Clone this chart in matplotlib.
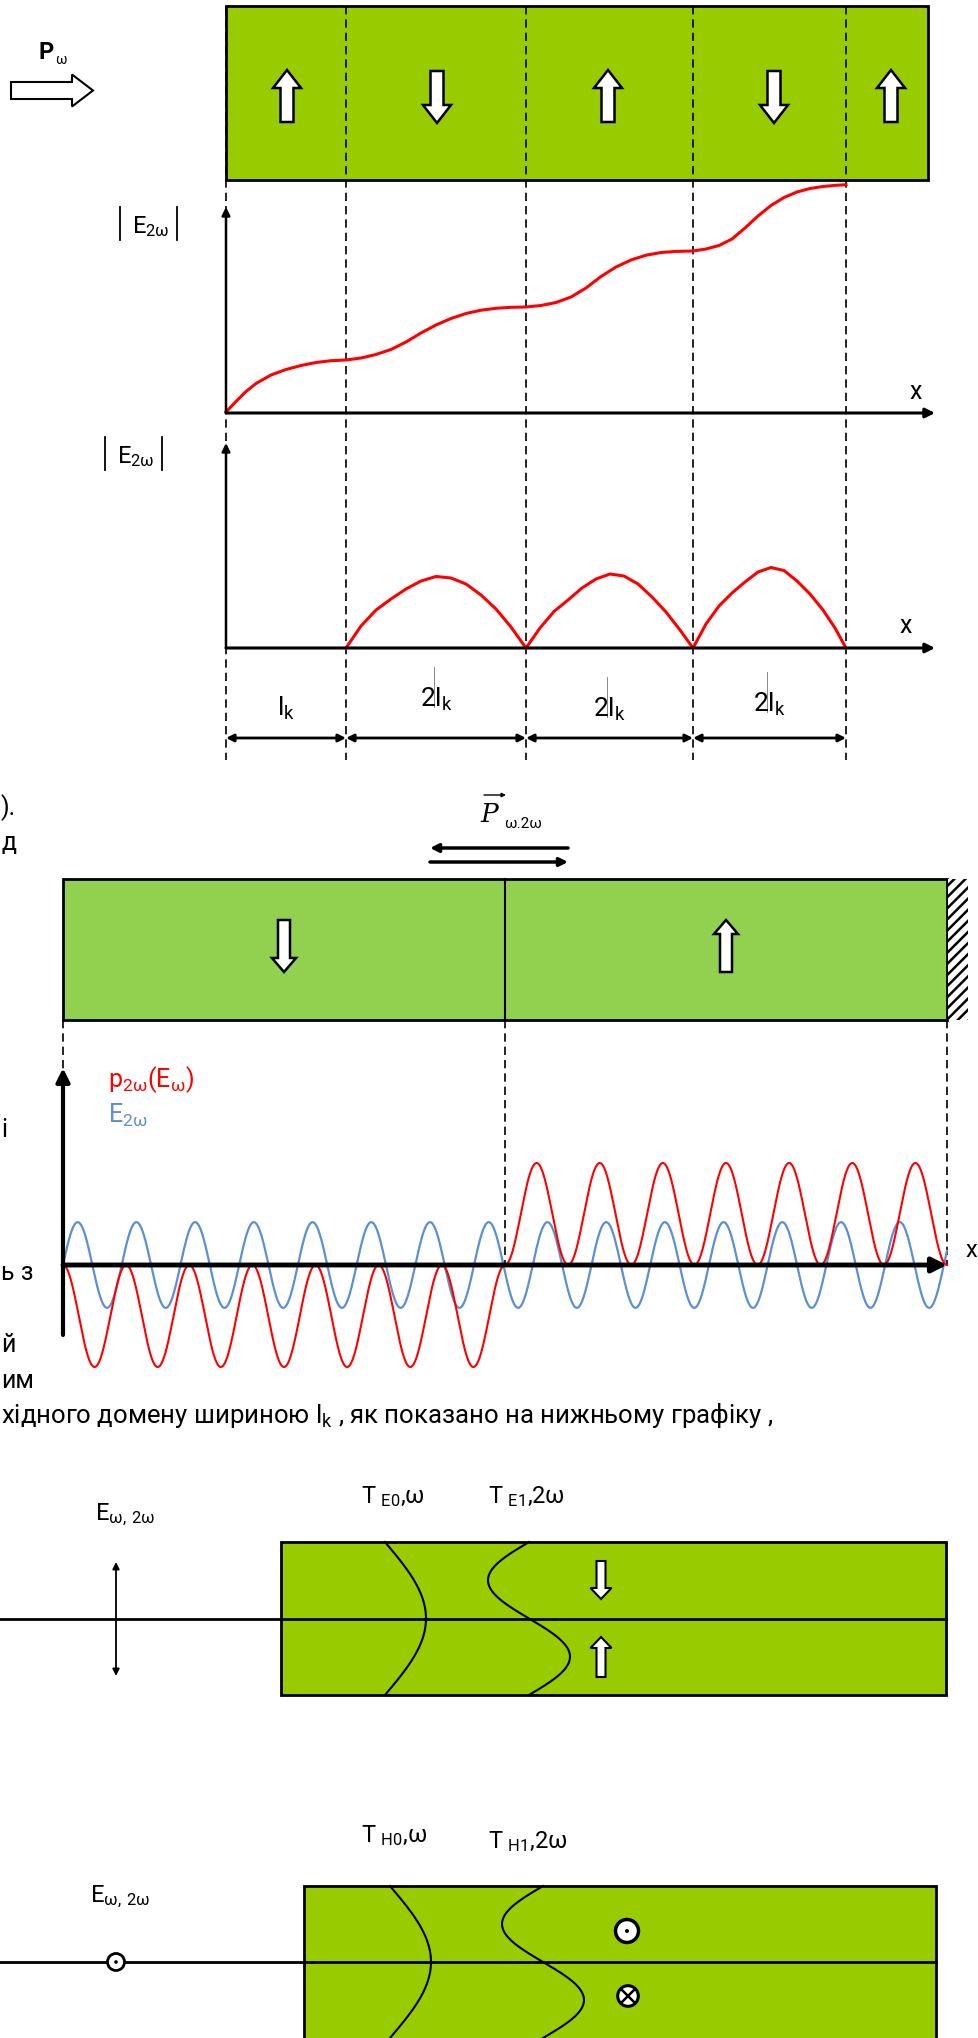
import numpy as np
import matplotlib
matplotlib.use("Agg")
import matplotlib.pyplot as plt
import matplotlib.patches as mpatches

plt.rcParams['font.family'] = ['Roboto', 'DejaVu Sans']
plt.rcParams['mathtext.default'] = 'regular'
plt.rcParams['hatch.linewidth'] = 1.8

W, H = 979, 2038

# ---------------- data ----------------
# domain borders along x (same units as the |E2w| plots, origin at the y axis)
domain_edges = [0, 120, 300, 467, 620]
domain_dirs = ["up", "down", "up", "down", "up"]
dim_labels = [r"$l_k$", r"$2l_k$", r"$2l_k$", r"$2l_k$"]

# |E2w| growth with quasi phase matching (upper plot)
stair_x = [0, 10, 20, 30, 45, 60, 75, 90, 105, 120,
           135, 150, 165, 180, 195, 210, 225, 240, 255, 270, 285, 300,
           315, 330, 345, 360, 375, 390, 405, 420, 435, 450, 467,
           480, 493, 506, 519, 532, 545, 558, 571, 584, 597, 610, 620]
stair_y = [1, 11.5, 21.5, 29.5, 38, 43.5, 47.5, 50.5, 52.3, 53,
           55, 58.5, 63.5, 71, 80, 88, 94.5, 99.5, 102.8, 104.7, 105.7, 106,
           107.5, 110.5, 116, 125, 136.5, 146, 153, 157.8, 160.5, 161.6, 162,
           164, 167.5, 174, 185, 197, 207.5, 215.5, 221, 224.5, 226.5, 227.7, 228.3]

# |E2w| without phase matching (lower plot), three arches
arch_x = [
    [120, 135, 150, 165, 180, 195, 210, 225, 240, 255, 270, 285, 300],
    [300, 314, 328, 342, 356, 370, 384, 398, 412, 426, 440, 454, 467],
    [467, 480, 493, 506, 519, 532, 545, 558, 571, 584, 597, 609, 620],
]
arch_y = [
    [0, 22, 38, 49, 59, 67, 71.5, 70, 64, 53, 39, 21, 0],
    [0, 20, 36.5, 48, 60, 69, 74, 72, 64, 51, 36, 18, 0],
    [0, 24, 42, 55, 66, 76, 80.5, 77.5, 67, 54, 38, 20, 0],
]

# p2w(Ew) and E2w waves, x in periods of p2w
red_periods_per_domain = 7
red_amp = 1.0
blue_amp = 0.42
blue_period = 0.93

# waveguide mode profiles (offset of curve from its base line, px)
mode_amp = 41

GREEN = '#99CC00'
GREEN2 = '#92D050'
BLUE = '#5B8FD6'

fig = plt.figure(figsize=(W / 100, H / 100), dpi=100)
bg = fig.add_axes([0, 0, 1, 1])
bg.set_xlim(0, W)
bg.set_ylim(H, 0)
bg.axis('off')


def px_axes(l, t, r, b):
    a = fig.add_axes([l / W, 1 - b / H, (r - l) / W, (b - t) / H])
    a.axis('off')
    a.patch.set_alpha(0)
    return a


def hollow_arrow(ax, x, y0, y1, shaft=12, head=26, head_len=17, lw=1.8):
    ax.add_patch(mpatches.FancyArrow(x, y0, 0, y1 - y0, width=shaft, head_width=head,
                                     head_length=head_len, length_includes_head=True,
                                     fc='white', ec='black', lw=lw, zorder=5))


def line_arrow(ax, x0, y0, x1, y1, lw=2.0, ms=14, style='-|>'):
    ax.annotate('', xy=(x1, y1), xytext=(x0, y0), annotation_clip=False,
                arrowprops=dict(arrowstyle=style, lw=lw, color='black',
                                mutation_scale=ms, shrinkA=0, shrinkB=0))


def abs_label(x, y, size=17):
    # |E2w| with tall bars
    bg.plot([x, x], [y - 26, y + 7], color='black', lw=1.3)
    bg.text(x + 12, y, r"$E_{2ω}$", fontsize=size, va='baseline')
    bg.plot([x + 57, x + 57], [y - 26, y + 7], color='black', lw=1.3)


# ---------------- top: periodically poled crystal ----------------
X0 = 226
bg.add_patch(mpatches.Rectangle((X0, 6), 928 - X0, 174, fc=GREEN, ec='black', lw=2))
for e in domain_edges:
    bg.plot([X0 + e, X0 + e], [6, 760], color='black', lw=1.2, ls=(0, (5, 3)))

top_arrow_x = [287, 437, 608, 774, 891]
for x, d in zip(top_arrow_x, domain_dirs):
    if d == "up":
        hollow_arrow(bg, x, 122, 70, shaft=13, head=28, head_len=18)
    else:
        hollow_arrow(bg, x, 71, 123, shaft=13, head=28, head_len=18)

bg.text(39, 59, 'P', fontsize=17, fontweight='bold', va='baseline')
bg.text(55, 64, 'ω', fontsize=10, va='baseline')
bg.add_patch(mpatches.FancyArrow(11, 90.5, 82, 0, width=17, head_width=32, head_length=21,
                                 length_includes_head=True, fc='white', ec='black', lw=1.5))

# upper plot
g1 = px_axes(200, 180, W, 430)
g1.set_xlim(-26, W - X0)
g1.set_ylim(-17, 233)
line_arrow(g1, 0, 0, 709, 0, lw=2.2, ms=14)
line_arrow(g1, 0, 0, 0, 206, lw=1.8, ms=12)
g1.plot(stair_x, stair_y, color='red', lw=2.2, solid_joinstyle='round')
abs_label(120, 233)
bg.text(909, 399, 'x', fontsize=18, va='baseline')

# lower plot
g2 = px_axes(200, 430, W, 665)
g2.set_xlim(-26, W - X0)
g2.set_ylim(-17, 218)
line_arrow(g2, 0, 0, 709, 0, lw=2.2, ms=14)
line_arrow(g2, 0, 0, 0, 205, lw=1.8, ms=12)
for ax_, ay_ in zip(arch_x, arch_y):
    g2.plot(ax_, ay_, color='red', lw=2.2, solid_joinstyle='round')
abs_label(105, 463)
bg.text(899, 633, 'x', fontsize=18, va='baseline')

# dimension arrows and labels
dim_base = [716, 707, 717, 712]
for i, lab in enumerate(dim_labels):
    xa, xb = X0 + domain_edges[i], X0 + domain_edges[i + 1]
    line_arrow(bg, xa, 738, xb, 738, lw=2, ms=11, style='<|-|>')
    mid = (xa + xb) / 2
    bg.text(mid, dim_base[i], lab, fontsize=19, ha='center', va='baseline')
    if i > 0:
        bg.plot([mid - 2, mid - 2], [dim_base[i] - 40, dim_base[i]], color='#888888', lw=0.7)

# ---------------- middle: two domains near a mirror ----------------
bg.text(480, 822, 'P', family='DejaVu Serif', style='italic', fontsize=19, va='baseline')
line_arrow(bg, 484, 795, 506, 795, lw=1.0, ms=6)
bg.text(504, 828, 'ω.2ω', fontsize=11, va='baseline')
line_arrow(bg, 568, 848, 430, 848, lw=2.5, ms=12)
line_arrow(bg, 430, 862, 568, 862, lw=2.5, ms=12)

bg.add_patch(mpatches.Rectangle((63, 879), 884, 141, fc=GREEN2, ec='black', lw=2))
bg.plot([505, 505], [879, 1020], color='black', lw=1.5)
bg.add_patch(mpatches.Rectangle((948, 879), 20, 141, fc='white', ec='black', hatch='///', lw=0))
hollow_arrow(bg, 284, 920, 972, shaft=12, head=24, head_len=14)
hollow_arrow(bg, 726, 972, 920, shaft=12, head=24, head_len=14)

P = 442 / red_periods_per_domain  # px per period
w = px_axes(0, 1020, W, 1380)
w.set_xlim(-63 / P, (W - 63) / P)
w.set_ylim((1265 - 1380) / 102, (1265 - 1020) / 102)
top = (1265 - 1020) / 102
for xd in [0, red_periods_per_domain, 2 * red_periods_per_domain]:
    w.plot([xd, xd], [top, 0], color='black', lw=1.2, ls=(0, (5, 3)))

xb = np.linspace(0, 2 * red_periods_per_domain, 3000)
w.plot(xb, blue_amp * np.sin(2 * np.pi * xb / blue_period), color=BLUE, lw=1.6)
xl = np.linspace(0, red_periods_per_domain, 1500)
w.plot(xl, -red_amp * (1 - np.cos(2 * np.pi * xl)) / 2, color='red', lw=1.5)
xr = np.linspace(red_periods_per_domain, 2 * red_periods_per_domain, 1500)
w.plot(xr, red_amp * (1 - np.cos(2 * np.pi * xr)) / 2, color='red', lw=1.5)
line_arrow(w, 0, 0, 2 * red_periods_per_domain, 0, lw=3.5, ms=22)
line_arrow(w, 0, -0.686, 0, 1.93, lw=3.0, ms=20)

bg.text(108, 1087, r"$p_{2ω}(E_{ω})$", fontsize=18, color='red', va='baseline')
bg.text(108, 1123, r"$E_{2ω}$", fontsize=18, color=BLUE, va='baseline')
bg.text(966, 1257, 'x', fontsize=17, va='baseline')

# fragments of the surrounding page text (left edge of the page)
bg.text(1, 815, ').', fontsize=18, ha='left', va='baseline')
bg.text(1, 850, 'д', fontsize=18, ha='left', va='baseline')
bg.text(1, 1137, 'і', fontsize=18, ha='left', va='baseline')
bg.text(1, 1280, 'ь з', fontsize=18, ha='left', va='baseline')
bg.text(1, 1352, 'й', fontsize=18, ha='left', va='baseline')
bg.text(1, 1388, 'им', fontsize=18, ha='left', va='baseline')
bg.text(1, 1423, r"хідного домену шириною $l_k$ , як показано на нижньому графіку ,",
        fontsize=18.5, ha='left', va='baseline')

# ---------------- TE modes ----------------
bg.add_patch(mpatches.Rectangle((281, 1542), 946 - 281, 153, fc=GREEN, ec='black', lw=2))
bg.plot([0, 946], [1619, 1619], color='black', lw=2)
line_arrow(bg, 116, 1619, 116, 1562, lw=1.3, ms=10)
line_arrow(bg, 116, 1619, 116, 1676, lw=1.3, ms=10)
bg.text(95, 1520, r"$E_{ω,\,2ω}$", fontsize=17, va='baseline')
bg.text(361, 1503, r"$T_{\ E0}$,ω", fontsize=17, va='baseline')
bg.text(488, 1503, r"$T_{\ E1}$,2ω", fontsize=17, va='baseline')

yy = np.linspace(1542, 1695, 300)
bg.plot(385 + mode_amp * np.cos(np.pi * (yy - 1618.5) / 153), yy, color='black', lw=1.5)
bg.plot(529 + mode_amp * np.sin(np.pi * (yy - 1618.5) / 76.5), yy, color='black', lw=1.5)
hollow_arrow(bg, 601, 1561, 1599, shaft=9, head=21, head_len=11, lw=1.5)
hollow_arrow(bg, 601, 1677, 1637, shaft=9, head=21, head_len=11, lw=1.5)

# ---------------- TH modes ----------------
bg.add_patch(mpatches.Rectangle((304, 1886), 936 - 304, 170, fc=GREEN, ec='black', lw=2))
bg.plot([0, 936], [1962, 1962], color='black', lw=2)
bg.add_patch(mpatches.Circle((116, 1962), 8.5, fc='white', ec='black', lw=2, zorder=5))
bg.add_patch(mpatches.Circle((116, 1962), 1.8, fc='black', zorder=6))
bg.text(90, 1902, r"$E_{ω,\,2ω}$", fontsize=17, va='baseline')
bg.text(361, 1842, r"$T_{\ H0}$,ω", fontsize=17, va='baseline')
bg.text(488, 1848, r"$T_{\ H1}$,2ω", fontsize=17, va='baseline')

yy = np.linspace(1886, 2038, 300)
bg.plot(390 + mode_amp * np.cos(np.pi * (yy - 1962) / 152), yy, color='black', lw=1.5)
bg.plot(543 + mode_amp * np.sin(np.pi * (yy - 1962) / 76), yy, color='black', lw=1.5)

bg.add_patch(mpatches.Circle((627, 1931), 11.5, fc='white', ec='black', lw=2.5, zorder=5))
bg.add_patch(mpatches.Circle((627, 1931), 2, fc='black', zorder=6))
bg.add_patch(mpatches.Circle((628, 1996), 10.3, fc='white', ec='black', lw=2.2, zorder=5))
d = 10.3 * 0.707
bg.plot([628 - d, 628 + d], [1996 - d, 1996 + d], color='black', lw=1.8, zorder=6)
bg.plot([628 - d, 628 + d], [1996 + d, 1996 - d], color='black', lw=1.8, zorder=6)

fig.savefig("out.png", dpi=100)
